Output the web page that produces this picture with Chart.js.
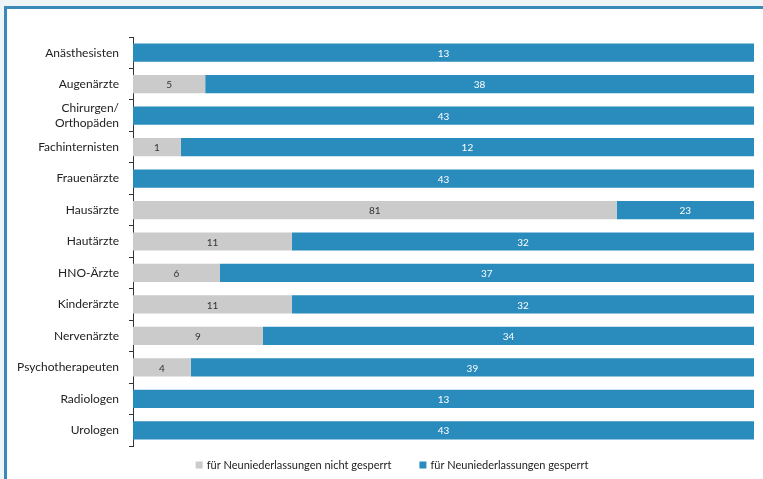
<!DOCTYPE html>
<html>
<head>
<meta charset="utf-8">
<script src="https://cdn.jsdelivr.net/npm/chart.js@4/dist/chart.umd.min.js"></script>
<style>
  html, body { margin: 0; padding: 0; background: #eef5f6; }
  #frame {
    position: absolute; left: 4px; top: 6px; width: 759px; height: 473px;
    border-left: 3px solid #3a89b8; border-top: 3px solid #3a89b8;
    background: #ffffff; box-sizing: border-box;
  }
  #wrap { position: absolute; left: 0; top: 0; width: 763px; height: 479px; }
</style>
</head>
<body>
<div id="frame"></div>
<div id="wrap"><canvas id="c" width="763" height="479"></canvas></div>
<script>
// Fachgruppen und Anzahl der Planungsbereiche
const categories = [
  'Anästhesisten', 'Augenärzte', ['Chirurgen/', 'Orthopäden'], 'Fachinternisten',
  'Frauenärzte', 'Hausärzte', 'Hautärzte', 'HNO-Ärzte', 'Kinderärzte',
  'Nervenärzte', 'Psychotherapeuten', 'Radiologen', 'Urologen'
];
const seriesNames = ['für Neuniederlassungen nicht gesperrt', 'für Neuniederlassungen gesperrt'];
const nichtGesperrt = [0, 5, 0, 1, 0, 81, 11, 6, 11, 9, 4, 0, 0];
const gesperrt      = [13, 38, 43, 12, 43, 23, 32, 37, 32, 34, 39, 13, 43];

// Anteile je Fachgruppe (100 % gestapelt)
const totals = nichtGesperrt.map((v, i) => v + gesperrt[i]);
const pct = arr => arr.map((v, i) => v / totals[i] * 100);

const GRAY = '#cbcbcb';
const BLUE = '#2a8bbd';
const FONT = 'Lato, "Open Sans", sans-serif';

// Zahlenwerte mittig in die Balkensegmente schreiben
const valueLabels = {
  id: 'valueLabels',
  afterDatasetsDraw(chart) {
    const ctx = chart.ctx;
    ctx.save();
    ctx.font = '10px ' + FONT;
    ctx.textAlign = 'center';
    ctx.textBaseline = 'middle';
    chart.data.datasets.forEach((ds, di) => {
      const meta = chart.getDatasetMeta(di);
      meta.data.forEach((el, i) => {
        const n = ds.counts[i];
        if (!n) return;
        const x = (el.base + el.x) / 2;
        ctx.fillStyle = di === 0 ? '#333333' : '#ffffff';
        ctx.fillText(String(n), x, el.y + 1);
      });
    });
    ctx.restore();
  }
};

// Legende unterhalb der Grafik, zentriert, mit kleinen Farbquadraten
const bottomLegend = {
  id: 'bottomLegend',
  afterDraw(chart) {
    const ctx = chart.ctx;
    const ds = chart.data.datasets;
    const box = 7, gapBox = 4, gapItem = 28;
    ctx.save();
    ctx.font = '11px ' + FONT;
    ctx.textBaseline = 'middle';
    const widths = ds.map(d => box + gapBox + ctx.measureText(d.label).width);
    const total = widths.reduce((a, b) => a + b, 0) + gapItem * (ds.length - 1);
    let x = 392 - total / 2;
    const y = 465;
    ds.forEach((d, i) => {
      ctx.fillStyle = d.backgroundColor;
      ctx.fillRect(x, y - box / 2, box, box);
      ctx.fillStyle = '#222222';
      ctx.fillText(d.label, x + box + gapBox, y);
      x += widths[i] + gapItem;
    });
    ctx.restore();
  }
};

new Chart(document.getElementById('c'), {
  type: 'bar',
  data: {
    labels: categories,
    datasets: [
      { label: seriesNames[0], data: pct(nichtGesperrt), counts: nichtGesperrt,
        backgroundColor: GRAY, barPercentage: 0.58, categoryPercentage: 1.0 },
      { label: seriesNames[1], data: pct(gesperrt), counts: gesperrt,
        backgroundColor: BLUE, barPercentage: 0.58, categoryPercentage: 1.0 }
    ]
  },
  options: {
    indexAxis: 'y',
    responsive: false,
    animation: false,
    layout: { padding: { left: 0, right: 9, top: 37, bottom: 33 } },
    scales: {
      x: { stacked: true, min: 0, max: 100, display: false },
      y: {
        stacked: true,
        afterFit(scale) { scale.width = 133; },
        border: { display: true, color: '#333333', width: 1 },
        grid: { drawOnChartArea: false, drawTicks: true, tickLength: 4, color: '#333333', offset: true },
        ticks: { autoSkip: false, color: '#222222', padding: 10, font: { family: FONT, size: 12 } }
      }
    },
    plugins: {
      legend: { display: false },
      tooltip: { enabled: false }
    }
  },
  plugins: [valueLabels, bottomLegend]
});
</script>
</body>
</html>
